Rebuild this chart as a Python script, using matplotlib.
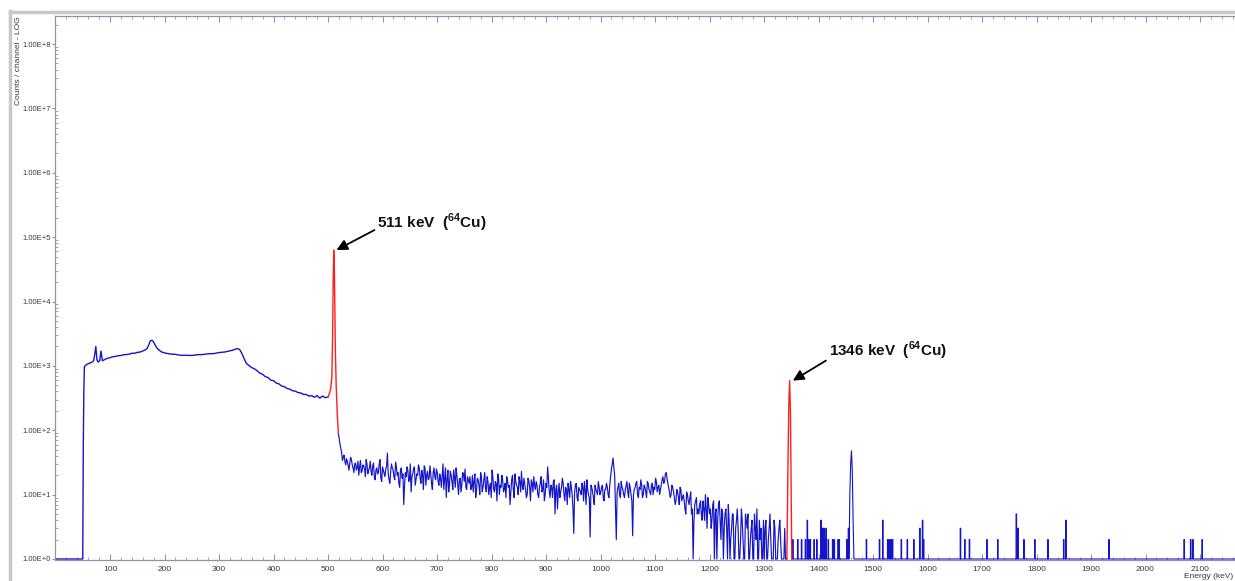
import numpy as np
import matplotlib
matplotlib.use('Agg')
import matplotlib.pyplot as plt
from matplotlib.ticker import MultipleLocator, FixedLocator, LogLocator, FuncFormatter, NullFormatter
from matplotlib.lines import Line2D

plt.rcParams['font.family'] = ['Liberation Sans', 'DejaVu Sans']
plt.rcParams['mathtext.fontset'] = 'custom'
plt.rcParams['mathtext.rm'] = 'Liberation Sans:bold'
plt.rcParams['mathtext.bf'] = 'Liberation Sans:bold'

# --- spectrum (energy in keV, counts per channel) ---

# low energy continuum, up to the 511 keV peak
low_energy = [0, 50, 51, 52, 53, 55, 58, 62, 66, 70, 72, 74, 76, 78, 81, 83.5, 86, 90, 95,
              100, 105, 110, 115, 120, 125, 130, 135, 140, 145, 150, 155, 160, 165, 168,
              171, 174, 177, 180, 183, 186, 190, 195, 200, 210, 220, 230, 240, 250, 260,
              270, 280, 290, 300, 310, 320, 326, 330, 334, 338, 342, 346, 350, 355, 360,
              365, 370, 375, 380, 385, 390, 395, 400, 405, 410, 415, 420, 425, 430, 435,
              440, 445, 450, 455, 460, 465, 470, 475, 480, 485, 490, 495, 500]
low_counts = [1, 1, 60, 400, 980, 1010, 1060, 1100, 1130, 1200, 1500, 2000, 1250, 1150, 1200,
              1700, 1200, 1250, 1310, 1340, 1390, 1400, 1440, 1450, 1490, 1500, 1520, 1570,
              1570, 1620, 1640, 1700, 1780, 1860, 2100, 2450, 2500, 2350, 2100, 1900, 1760,
              1640, 1590, 1530, 1510, 1460, 1460, 1450, 1490, 1500, 1540, 1550, 1610, 1640,
              1710, 1760, 1820, 1860, 1790, 1560, 1300, 1100, 1010, 940, 900, 840, 770, 740,
              680, 660, 600, 590, 540, 525, 485, 475, 445, 435, 410, 405, 385, 380, 360, 360,
              340, 345, 325, 345, 315, 340, 320, 330]

# 511 keV annihilation peak (red)
peak511_energy = [500, 503, 505, 507, 508.5, 509.5, 510.5, 511.5, 512.5, 513.5, 515, 517, 519]
peak511_counts = [330, 380, 450, 650, 3000, 20000, 63000, 40000, 9000, 1800, 500, 180, 90]

# noisy continuum: channels at 519 + 3k keV ...
noise_start = 519
noise_step = 3
noise_counts = [
    88,
    61, 45, 38, 33, 36, 28, 31, 35, 26, 30, 24, 33, 27, 22, 29, 25, 35, 21, 26, 23,
    28, 19, 24, 21, 30, 18, 27, 21, 25, 44, 17, 23, 26, 19, 32, 20, 15, 24, 18, 7,
    22, 27, 16, 30, 19, 25, 14, 21, 29, 18, 24, 12, 26, 20, 17, 28, 15, 22, 19, 25,
    16, 21, 13, 30, 18, 9, 24, 15, 20, 12, 19, 26, 14, 17, 11, 22, 16, 13, 19, 15,
    12, 20, 16, 9, 18, 14, 22, 11, 17, 13, 19, 10, 15, 24, 12, 16, 8, 18, 14, 20,
    11, 15, 19, 13, 7, 17, 12, 21, 14, 10, 16, 23, 12, 15, 9, 18, 13, 17, 11, 14,
    16, 10, 13, 19, 12, 8, 15, 27, 11, 14, 9, 17, 12, 6, 15, 11, 18, 10, 13, 7,
    12, 16, 10, 2.5, 14, 9, 13, 11, 15, 8, 12, 17, 10, 2.2, 13, 9, 14, 11, 16, 10,
    13, 9, 12, 15, 10, 14, 25, 37, 20, 2, 13, 10, 16, 12, 9, 14, 11, 15, 10, 2.3,
    12, 15, 10, 13, 17, 9, 14, 11, 16, 12, 10, 15, 13, 18, 11, 14, 12, 17, 15, 21,
    18, 13, 9, 14, 11, 7, 12, 9, 13, 8, 10, 6, 11, 8, 9, 5, 1, 7, 9, 6,
    7, 5, 8, 4, 6, 9, 5, 3, 7, 1, 6, 4, 8, 2, 5, 3, 6, 1, 4, 2,
    5, 1, 3, 6, 1, 2, 4, 1, 5, 3, 1, 2, 4, 1, 3, 6, 1, 2, 1, 4,
    3, 1, 2, 5, 1, 1, 3, 1, 2, 4, 1, 1, 3, 1,
]
# ... and the channels half way between them (520.5 + 3k keV)
noise_mid_start = 520.5
noise_mid_counts = [
    75, 52, 34, 41, 29, 33, 24, 38, 29, 22, 31, 26, 20, 34, 23, 28, 19, 30, 24, 33,
    20, 31, 17, 26, 22, 35, 16, 24, 19, 28, 21, 15, 30, 24, 17, 27, 22, 13, 26, 21,
    14, 19, 24, 17, 11, 21, 27, 17, 20, 26, 15, 20, 28, 14, 23, 18, 21, 12, 26, 17,
    22, 14, 18, 20, 12, 26, 17, 11, 23, 16, 24, 13, 20, 10, 18, 14, 21, 25, 12, 17,
    19, 13, 11, 21, 12, 17, 10, 19, 13, 22, 11, 16, 13, 9, 19, 11, 15, 21, 10, 13,
    17, 12, 9, 16, 14, 11, 20, 9, 16, 13, 19, 11, 14, 18, 12, 10, 16, 8, 15, 19,
    12, 14, 9, 15, 11, 17, 10, 13, 18, 9, 13, 16, 5, 14, 11, 9, 13, 15, 8, 12,
    15, 9, 13, 6, 11, 15, 8, 12, 10, 13, 16, 7, 12, 9, 14, 11, 7, 12, 10, 13,
    11, 14, 8, 12, 13, 9, 19, 30, 26, 6, 11, 15, 9, 13, 10, 12, 16, 9, 13, 8,
    10, 13, 16, 9, 12, 14, 10, 13, 9, 15, 11, 14, 10, 12, 16, 13, 10, 14, 19, 16,
    22, 15, 11, 10, 13, 9, 8, 11, 7, 12, 9, 8, 5, 10, 7, 11, 6, 4, 8, 5,
    5, 8, 4, 6, 10, 3, 7, 6, 4, 8, 5, 1, 7, 4, 6, 1, 5, 3, 7, 1,
    3, 5, 1, 4, 3, 1, 6, 2, 1, 4, 5, 1, 3, 1, 5, 2, 1, 4, 3, 1,
    1, 4, 1, 3, 2, 1, 4, 1, 1, 3, 2, 1, 1, 1,
]

# 1346 keV peak (red)
peak1346_energy = [1342, 1344, 1345.5, 1347, 1348.5, 1350, 1351]
peak1346_counts = [1, 30, 250, 590, 200, 8, 1]

# 1460 keV background line
k40_energy = [1456, 1457.5, 1459, 1460.5, 1462, 1463.5, 1465]
k40_counts = [1, 10, 30, 48, 24, 4, 1]

# isolated single-channel hits above 1350 keV
spike_energy = [1353, 1362, 1369, 1376, 1379.5,
                1382, 1385, 1392, 1397, 1404.5,
                1408, 1410, 1412, 1414, 1418,
                1426, 1429, 1436, 1438, 1452,
                1455, 1488, 1512, 1518, 1527,
                1530, 1533, 1536, 1552, 1563,
                1575, 1586, 1591, 1593, 1660.5,
                1668.5, 1677, 1709, 1729, 1763,
                1766, 1777, 1797, 1821, 1850,
                1854, 1933, 2071, 2083, 2087,
                2104]
spike_counts = [2, 2, 2, 2, 4,
                2, 2, 2, 2, 4,
                3, 3, 2, 3, 2,
                2, 2, 2, 2, 2,
                3, 2, 2, 4, 2,
                2, 2, 2, 2, 2,
                2, 3, 4, 2, 3,
                2, 2, 2, 2, 5,
                3, 2, 2, 2, 2,
                4, 2, 2, 2, 2,
                2]
spectrum_end = 2200

x_ticks = list(range(100, 2200, 100))
y_ticks = [1e0, 1e1, 1e2, 1e3, 1e4, 1e5, 1e6, 1e7, 1e8]

BLUE = '#1414c8'
RED = '#ff1e1e'
AXIS_GREY = '#9292aa'

# merge the two interleaved channel lists of the noisy part
n_e = list(noise_start + noise_step * np.arange(len(noise_counts)))
m_e = list(noise_mid_start + noise_step * np.arange(len(noise_mid_counts)))
merged = sorted(zip(n_e + m_e, noise_counts + noise_mid_counts), key=lambda p: p[0])
merged.append((peak1346_energy[0], peak1346_counts[0]))
noise_energy = [p[0] for p in merged]
noise_values = [p[1] for p in merged]

# build the tail (baseline + hits + 1460 line)
tail = [(peak1346_energy[-1], 1.0), (spectrum_end, 1.0)]
for e, c in zip(spike_energy, spike_counts):
    tail += [(e - 0.5, 1.0), (e - 0.5, c), (e + 0.5, c), (e + 0.5, 1.0)]
tail += list(zip(k40_energy, k40_counts))
tail.sort(key=lambda p: p[0])
tail_energy = [p[0] for p in tail]
tail_counts = [p[1] for p in tail]

fig = plt.figure(figsize=(12.35, 5.81), dpi=100)
W, H = 1235, 581
ax = fig.add_axes([55.5 / W, 21 / H, 2200 * 0.545 / W, 544 / H])

ax.plot(low_energy, low_counts, color=BLUE, lw=1.0)
ax.plot(noise_energy, noise_values, color=BLUE, lw=0.85)
ax.plot(tail_energy, tail_counts, color=BLUE, lw=0.8)
ax.plot(peak511_energy, peak511_counts, color=RED, lw=1.0)
ax.plot(peak1346_energy, peak1346_counts, color=RED, lw=1.0)

ax.set_yscale('log')
ax.set_xlim(0, 2200)
ax.set_ylim(10 ** (-1 / 64.3), 10 ** 8.435)

ax.xaxis.set_major_locator(FixedLocator(x_ticks))
ax.xaxis.set_minor_locator(MultipleLocator(20))
ax.yaxis.set_major_locator(FixedLocator(y_ticks))
ax.yaxis.set_minor_locator(LogLocator(base=10, subs=np.arange(2, 10)))
ax.yaxis.set_minor_formatter(NullFormatter())
ax.yaxis.set_major_formatter(FuncFormatter(lambda v, p: '1.00E+%d' % round(np.log10(v))))

ax.tick_params(axis='both', which='both', direction='in', colors=AXIS_GREY,
               labelcolor='#3a3a3a', labelsize=6)
ax.tick_params(axis='x', which='both', top=True)
ax.tick_params(axis='x', which='major', length=4, width=0.8, pad=4)
ax.tick_params(axis='x', which='minor', length=2, width=0.6)
ax.tick_params(axis='y', which='major', direction='out', length=2, width=0.8, pad=1,
               labelsize=5.5)
ax.tick_params(axis='y', which='minor', length=2, width=0.6)
for side in ('left', 'bottom', 'top'):
    ax.spines[side].set_color(AXIS_GREY)
    ax.spines[side].set_linewidth(0.9)
ax.spines['right'].set_visible(False)

# peak labels with arrows
label_kw = dict(fontsize=11, fontweight='bold', color='#111111', ha='left', va='center')
arrow_kw = dict(arrowstyle='-|>', color='black', lw=1.3, mutation_scale=16,
                shrinkA=0, shrinkB=0)
i511 = int(np.argmax(peak511_counts))
tip511 = (peak511_energy[i511] + 5, peak511_counts[i511])
ax.annotate('', xy=tip511, xytext=(38, 20), textcoords='offset pixels', arrowprops=arrow_kw)
ax.annotate(r'511 keV  ($^{64}$Cu)', xy=tip511, xytext=(41, 27),
            textcoords='offset pixels', **label_kw)
i1346 = int(np.argmax(peak1346_counts))
tip1346 = (peak1346_energy[i1346] + 6, peak1346_counts[i1346])
ax.annotate('', xy=tip1346, xytext=(33, 20), textcoords='offset pixels', arrowprops=arrow_kw)
ax.annotate(r'1346 keV  ($^{64}$Cu)', xy=tip1346, xytext=(36, 30),
            textcoords='offset pixels', **label_kw)

fig.text(19 / W, 1 - 16 / H, 'Counts / channel - LOG', rotation=90, ha='center', va='top',
         fontsize=6, color='#3a3a3a')
fig.text(1233 / W, 4 / H, 'Energy (keV)', ha='right', va='center', fontsize=6, color='#3a3a3a')

# window frame
fig.add_artist(Line2D([10 / W, 10 / W], [0, 1 - 11 / H], color='#c8c8c8', lw=2.5,
                      transform=fig.transFigure))
fig.add_artist(Line2D([10 / W, 1], [1 - 12 / H, 1 - 12 / H], color='#c8c8c8', lw=2.5,
                      transform=fig.transFigure))

fig.savefig('out.png', dpi=100)
